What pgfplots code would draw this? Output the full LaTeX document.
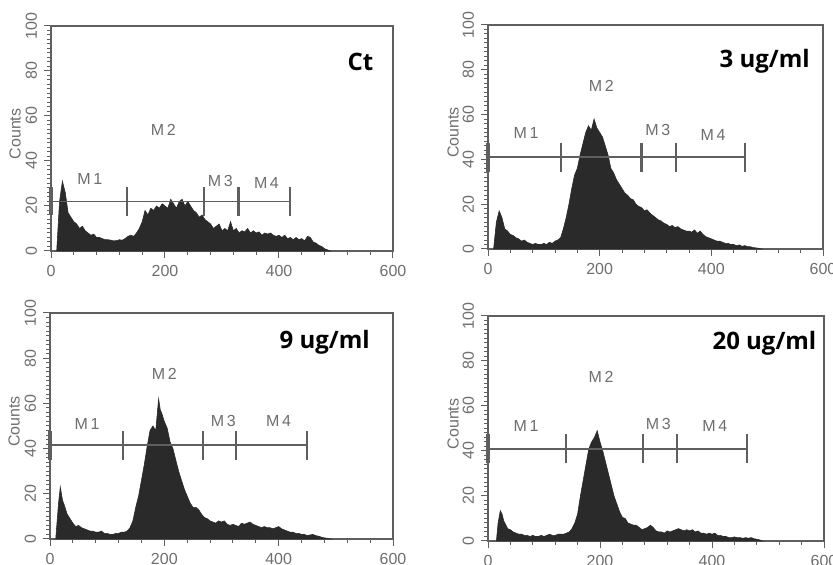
\documentclass[border=0pt]{standalone}
\usepackage{pgfplots}
\pgfplotsset{compat=1.18}
\usepackage{fontspec}
\setmainfont{Liberation Sans}
\newfontfamily\titlefont{Open Sans}
\definecolor{histfill}{RGB}{42,42,42}
\definecolor{framecol}{RGB}{95,95,95}
\definecolor{gatecol}{RGB}{95,95,95}
\definecolor{labcol}{RGB}{110,110,110}

\pgfplotsset{
  facs/.style={
    scale only axis,
    anchor=south west,
    clip=false,
    xmin=0, xmax=600, ymin=0, ymax=100,
    xtick={0,200,400,600}, ytick={0,20,...,100},
    minor x tick num=4, minor y tick num=9,
    xtick pos=bottom, ytick pos=left,
    tick align=outside,
    major tick length=3.5pt, minor tick length=1.8pt,
    axis line style={framecol, line width=0.7pt},
    tick style={framecol, line width=0.5pt},
    tick label style={font=\fontsize{8}{9}\selectfont, text=labcol},
    /pgf/number format/assume math mode=true,
    yticklabel style={rotate=90, anchor=south},
    unbounded coords=jump,
  },
  hist/.style={fill=histfill, draw=histfill, line width=0.3pt},
  gate/.style={gatecol, line width=0.8pt},
  gatetick/.style={gatecol, line width=1.1pt},
  gateend/.style={gatecol, line width=2pt},
}
\tikzset{
  mlab/.style={font=\fontsize{8}{9}\selectfont, text=labcol},
  ttl/.style={anchor=east, inner sep=0pt, font=\titlefont\bfseries\fontsize{12}{14}\selectfont},
  cnt/.style={rotate=90, font=\fontsize{8}{9}\selectfont, text=labcol},
}

\begin{document}
\begin{tikzpicture}
\path[use as bounding box] (0,0) rectangle (416.5pt,282.5pt);

%% ---- Ct ----
\begin{axis}[facs, at={(25.5pt,157pt)}, width=171pt, height=112.5pt]
\addplot[hist] coordinates {
(10,0) (15,22) (20,31) (25,26) (30,17) (35,15) (40,13) (45,12) (50,10) (55,11)
(60,9) (65,8) (70,7) (75,7.5) (80,6) (85,6) (90,5.5) (95,5) (100,5) (105,4.8)
(110,4.5) (115,4.6) (120,5) (125,4.8) (130,5.5) (135,6.5) (140,7) (145,6.5) (150,8) (155,10)
(160,13) (165,18) (170,16) (175,19) (180,18) (185,20) (190,19) (195,21) (200,20) (205,19)
(210,23) (215,21) (220,19) (225,22) (230,23) (235,20) (240,22) (245,20) (250,18) (255,17)
(260,15) (265,16) (270,14) (275,13) (280,12) (285,10) (290,11) (295,12) (300,9) (305,10)
(310,9) (315,13) (320,9) (325,10) (330,8) (335,9) (340,8.5) (345,10) (350,8) (355,9)
(360,8) (365,8.5) (370,7) (375,8) (380,7.5) (385,8) (390,7) (395,6.5) (400,7) (405,6)
(410,7) (415,5.5) (420,6) (425,5) (430,6) (435,5) (440,5.5) (445,4.5) (450,6.5) (455,6)
(460,4) (465,3.5) (470,2.5) (475,2) (480,1) (485,0.5) (490,0)
} \closedcycle;
\addplot[gate] coordinates {(0,22) (420,22)};
\addplot[gatetick] coordinates {
(133,15.5) (133,28.5) (nan,nan)
(268,15.5) (268,28.5) (nan,nan)
(329,15.5) (329,28.5) (nan,nan)
(420,15.5) (420,28.5)
};
\addplot[gateend] coordinates {(0,16) (0,28.5)};
\node[mlab] at (axis cs:68,32) {M\,1};
\node[mlab] at (axis cs:197,54) {M\,2};
\node[mlab] at (axis cs:297,31) {M\,3};
\node[mlab] at (axis cs:378,30) {M\,4};
\node[ttl] at (axis cs:566,84) {Ct};
\node[xshift=-18pt, cnt] at (rel axis cs:0,0.52) {Counts};
\end{axis}

%% ---- 3 ug/ml ----
\begin{axis}[facs, at={(244pt,158pt)}, width=167.5pt, height=112pt]
\addplot[hist] coordinates {
(10,0) (15,12) (20,17) (25,14) (30,9) (35,8) (40,6.5) (45,6) (50,5) (55,4.5)
(60,3.5) (65,4) (70,3) (75,2.5) (80,2) (85,2.5) (90,2) (95,2) (100,2.5) (105,2)
(110,3) (115,2.5) (120,3.5) (125,4) (130,5) (135,9) (140,14) (145,20) (150,27) (155,33)
(160,36) (165,42) (170,47) (175,52) (180,55) (185,53) (190,58) (195,54) (200,52) (205,50)
(210,46) (215,42) (220,36) (225,34) (230,31) (235,29) (240,27) (245,25) (250,24) (255,22.5)
(260,22) (265,20) (270,19) (275,18.5) (280,17) (285,17.5) (290,16) (295,15) (300,14) (305,13)
(310,12.5) (315,11.5) (320,11) (325,10) (330,10.5) (335,9.5) (340,10) (345,9) (350,8.5) (355,8)
(360,8) (365,7.5) (370,8.5) (375,7) (380,8) (385,6.5) (390,5.5) (395,5) (400,4.5) (405,4)
(410,3.5) (415,3.5) (420,3) (425,2.5) (430,2.5) (435,2) (440,2) (445,1.5) (450,1.8) (455,1.2)
(460,1.5) (465,1) (470,1) (475,0.6) (480,0.5) (485,0.3) (490,0)
} \closedcycle;
\addplot[gate] coordinates {(0,41) (460,41)};
\addplot[gatetick] coordinates {
(131,34.5) (131,47.5) (nan,nan)
(275,34.5) (275,47.5) (nan,nan)
(336,34.5) (336,47.5) (nan,nan)
(460,34.5) (460,47.5)
};
\addplot[gateend] coordinates {(0,34.5) (0,47.5)};
\node[mlab] at (axis cs:68,52) {M\,1};
\node[mlab] at (axis cs:203,73) {M\,2};
\node[mlab] at (axis cs:304,53) {M\,3};
\node[mlab] at (axis cs:403,51) {M\,4};
\node[ttl] at (axis cs:577,84) {3 ug/ml};
\node[xshift=-17.5pt, cnt] at (rel axis cs:0,0.52) {Counts};
\end{axis}

%% ---- 9 ug/ml ----
\begin{axis}[facs, at={(25pt,13pt)}, width=171.5pt, height=113pt]
\addplot[hist] coordinates {
(10,0) (15,16) (18,23) (22,17) (25,15) (30,11) (35,9) (40,7) (45,5.5) (50,6)
(55,5) (60,4.5) (65,4) (70,3.5) (75,3.5) (80,3) (85,3) (90,3.5) (95,2.5) (100,2.5)
(105,2) (110,2) (115,2.5) (120,2.5) (125,3) (130,3) (135,3.5) (140,5) (145,8) (150,14)
(155,19) (160,26) (165,33) (170,41) (175,48) (180,50) (185,48) (190,62) (193,57) (195,56)
(200,52) (205,49) (210,43) (215,40) (220,35) (225,30) (230,26) (235,22) (240,19) (245,16)
(250,14) (255,14) (260,13) (265,11) (270,9.5) (275,9) (280,8) (285,7.5) (290,7) (295,8)
(300,7.5) (305,8) (310,6.5) (315,6) (320,6.5) (325,6) (330,5.5) (335,7) (340,6.5) (345,7)
(350,7.5) (355,6.5) (360,6) (365,5.5) (370,5) (375,5.5) (380,5) (385,5) (390,4.5) (395,5)
(400,5.5) (405,4.5) (410,4) (415,3.5) (420,3) (425,3) (430,2.5) (435,2.5) (440,2) (445,2)
(450,1.5) (455,1.8) (460,2) (465,1.5) (470,1.2) (475,0.8) (480,0.5) (485,0.3) (490,0)
} \closedcycle;
\addplot[gate] coordinates {(0,41.5) (450,41.5)};
\addplot[gatetick] coordinates {
(127,35) (127,48) (nan,nan)
(267,35) (267,48) (nan,nan)
(326,35) (326,48) (nan,nan)
(450,35) (450,48)
};
\addplot[gateend] coordinates {(0,35) (0,48)};
\node[mlab] at (axis cs:65,51) {M\,1};
\node[mlab] at (axis cs:200,73) {M\,2};
\node[mlab] at (axis cs:303,52) {M\,3};
\node[mlab] at (axis cs:400,52) {M\,4};
\node[ttl] at (axis cs:560,87) {9 ug/ml};
\node[xshift=-18pt, cnt] at (rel axis cs:0,0.52) {Counts};
\end{axis}

%% ---- 20 ug/ml ----
\begin{axis}[facs, at={(244pt,12pt)}, width=168pt, height=112.5pt]
\addplot[hist] coordinates {
(15,0) (18,8) (22,13.5) (25,12) (28,9) (32,7) (35,5.5) (40,5) (45,4) (50,3.5)
(55,3) (60,3) (65,2.5) (70,2.5) (75,2) (80,2.5) (85,2) (90,2) (95,2.5) (100,2)
(105,2.5) (110,3) (115,2.5) (120,2.5) (125,3) (130,3) (135,3) (140,3.5) (145,4) (150,5.5)
(155,8) (160,12) (165,20) (170,27) (175,34) (180,41) (185,44) (190,46) (195,49) (200,44)
(205,40) (210,35) (215,30) (220,25) (225,20) (230,16.5) (235,13) (240,10.5) (245,10) (250,8)
(255,7.5) (260,7) (265,7) (270,6) (275,5) (280,5.5) (285,6) (290,7) (295,6) (300,4.5)
(305,4) (310,4) (315,3.5) (320,4.5) (325,4) (330,4.5) (335,5) (340,5.5) (345,5) (350,4.5)
(355,5) (360,4.5) (365,5) (370,4) (375,4.5) (380,3.5) (385,3.5) (390,3) (395,3.5) (400,3)
(405,3.5) (410,2.5) (415,2.5) (420,2) (425,2) (430,1.5) (435,1.5) (440,1.8) (445,1.5) (450,1.5)
(455,1.2) (460,1.5) (465,1.2) (470,1.5) (475,1) (480,0.8) (485,0.5) (490,0)
} \closedcycle;
\addplot[gate] coordinates {(0,41) (462,41)};
\addplot[gatetick] coordinates {
(139,34.5) (139,47.5) (nan,nan)
(277,34.5) (277,47.5) (nan,nan)
(337,34.5) (337,47.5) (nan,nan)
(462,34.5) (462,47.5)
};
\addplot[gateend] coordinates {(0,34.5) (0,47.5)};
\node[mlab] at (axis cs:68,51) {M\,1};
\node[mlab] at (axis cs:202,73) {M\,2};
\node[mlab] at (axis cs:304,52) {M\,3};
\node[mlab] at (axis cs:405,51) {M\,4};
\node[ttl] at (axis cs:587,88) {20 ug/ml};
\node[xshift=-17.5pt, cnt] at (rel axis cs:0,0.52) {Counts};
\end{axis}
\end{tikzpicture}
\end{document}
